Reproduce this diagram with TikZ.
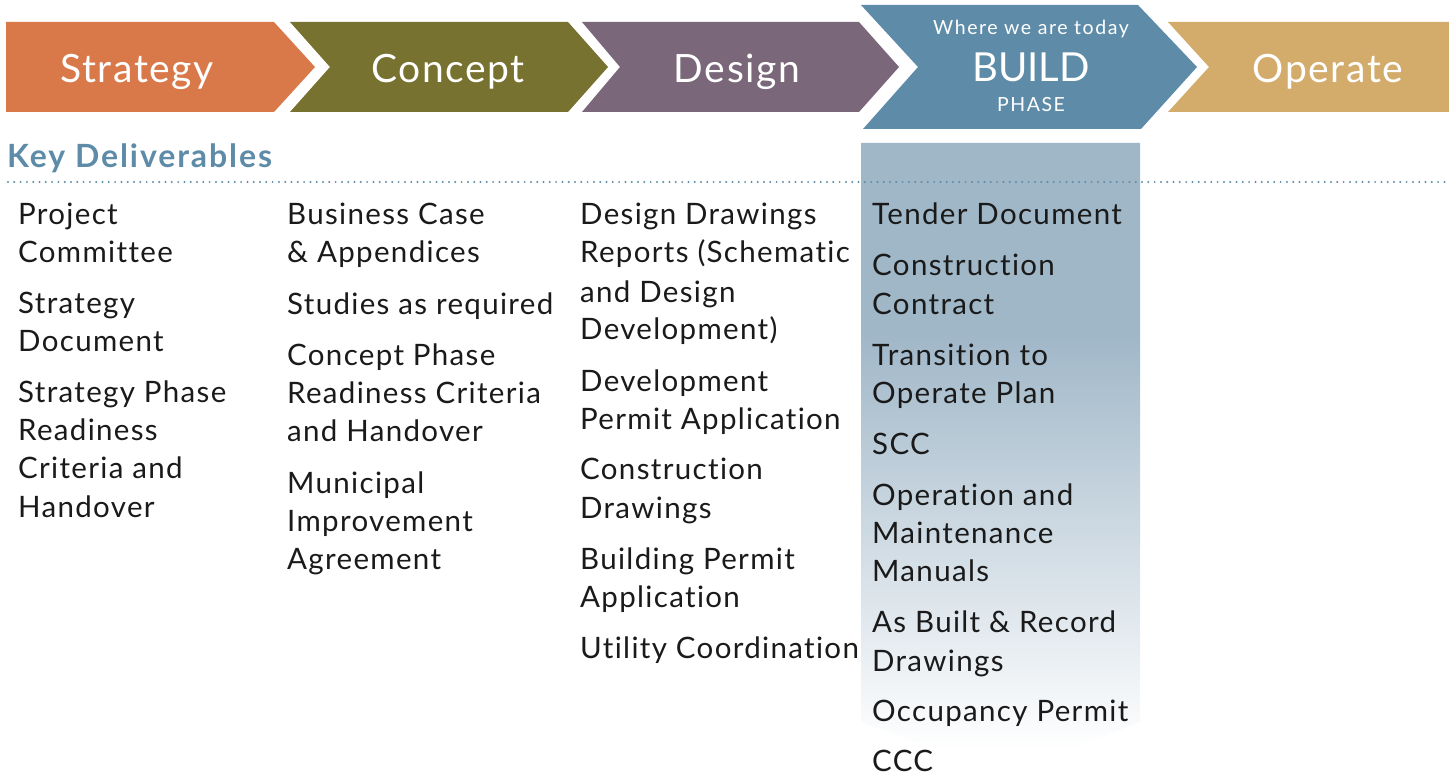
\documentclass[tikz,border=0pt]{standalone}
\usepackage{fontspec}
\setmainfont{Lato}[Ligatures=NoCommon]
\newfontfamily\bodyfont{Lato}[LetterSpace=4.5,Ligatures=NoCommon]
\newfontfamily\headfont{Lato}[LetterSpace=4,Ligatures=NoCommon]
\newfontfamily\smallfont{Lato}[LetterSpace=8,Ligatures=NoCommon]
\newfontfamily\kdfont{Lato Bold}[LetterSpace=6,Ligatures=NoCommon]
\definecolor{cstrat}{HTML}{D9794A}
\definecolor{cconc}{HTML}{77722F}
\definecolor{cdes}{HTML}{7A6779}
\definecolor{cbuild}{HTML}{5E8CA8}
\definecolor{coper}{HTML}{D3AC6C}
\definecolor{cbox}{HTML}{A0B7C8}
\definecolor{ctext}{HTML}{1A1A1A}
\pgfdeclareverticalshading{buildfade}{100bp}{color(0bp)=(white); color(27bp)=(white); color(60bp)=(cbox); color(100bp)=(cbox)}
\begin{document}
\begin{tikzpicture}[x=1pt,y=-1pt,
  phase/.style={text=white,font=\headfont\fontsize{39}{39}\selectfont,anchor=base},
  item/.style={text=ctext,font=\bodyfont\fontsize{29.5}{29.5}\selectfont,anchor=base west,inner sep=0pt}]
\useasboundingbox (0,0) rectangle (1449,778);
% build highlight box
\path[shading=buildfade] (861,143) -- (1140,143) -- (1140,722) -- (1001,775) -- (861,722) -- cycle;
% chevrons
\fill[cstrat] (6,22) -- (274,22) -- (315,67) -- (274,112) -- (6,112) -- cycle;
\fill[cconc] (290,22) -- (568,22) -- (608,67) -- (568,112) -- (290,112) -- (330,67) -- cycle;
\fill[cdes] (582,22) -- (859,22) -- (899,67) -- (859,112) -- (582,112) -- (620,67) -- cycle;
\fill[cbuild] (861,5) -- (1138,5) -- (1197,67) -- (1141,129) -- (863,129) -- (918,67) -- cycle;
\fill[coper] (1168,22) -- (1449,22) -- (1449,112) -- (1168,112) -- (1209,67) -- cycle;
\node[phase] (strategy) at (137,83) {Strategy};
\node[phase] (concept) at (448,83) {Concept};
\node[phase] (design) at (737,83) {Design};
\node[phase] (operate) at (1328,83) {Operate};
\node[phase,font=\rmfamily\fontsize{40}{40}\selectfont] (build) at (1031,82) {BUILD};
\node[phase,font=\smallfont\fontsize{19.5}{19.5}\selectfont] (today) at (1031,35) {Where we are today};
\node[phase,font=\smallfont\fontsize{19.5}{19.5}\selectfont] (phaselbl) at (1031,112) {PHASE};
% key deliverables
\node[anchor=base west,inner sep=0pt,text=cbuild,font=\kdfont\fontsize{32}{32}\selectfont] (kd) at (7,168) {Key Deliverables};
\draw[cbuild,line width=2.2pt,line cap=round,dash pattern=on 0pt off 6.3pt] (8,182) -- (1447,182);
% column 1
\node[item] (a1) at (18,225) {Project};
\node[item] (a2) at (18,263) {Committee};
\node[item] (a3) at (18,313) {Strategy};
\node[item] (a4) at (18,351) {Document};
\node[item] (a5) at (18,402) {Strategy Phase};
\node[item] (a6) at (18,440) {Readiness};
\node[item] (a7) at (18,478) {Criteria and};
\node[item] (a8) at (18,517) {Handover};
% column 2
\node[item] (b1) at (287,225) {Business Case};
\node[item] (b2) at (287,263) {\& Appendices};
\node[item] (b3) at (287,314) {Studies as required};
\node[item] (b4) at (287,365) {Concept Phase};
\node[item] (b5) at (287,403) {Readiness Criteria};
\node[item] (b6) at (287,441) {and Handover};
\node[item] (b7) at (287,493) {Municipal};
\node[item] (b8) at (287,531) {Improvement};
\node[item] (b9) at (287,569) {Agreement};
% column 3
\node[item] (c1) at (580,225) {Design Drawings};
\node[item] (c2) at (580,263) {Reports (Schematic};
\node[item] (c3) at (580,302) {and Design};
\node[item] (c4) at (580,339) {Development)};
\node[item] (c5) at (580,391) {Development};
\node[item] (c6) at (580,429) {Permit Application};
\node[item] (c7) at (580,479) {Construction};
\node[item] (c8) at (580,518) {Drawings};
\node[item] (c9) at (580,569) {Building Permit};
\node[item] (c10) at (580,607) {Application};
\node[item] (c11) at (580,658) {Utility Coordination};
% column 4
\node[item] (d1) at (872,225) {Tender Document};
\node[item] (d2) at (872,276) {Construction};
\node[item] (d3) at (872,314) {Contract};
\node[item] (d4) at (872,365) {Transition to};
\node[item] (d5) at (872,403) {Operate Plan};
\node[item] (d6) at (872,454) {SCC};
\node[item] (d7) at (872,505) {Operation and};
\node[item] (d8) at (872,543) {Maintenance};
\node[item] (d9) at (872,581) {Manuals};
\node[item] (d10) at (872,632) {As Built \& Record};
\node[item] (d11) at (872,671) {Drawings};
\node[item] (d12) at (872,721) {Occupancy Permit};
\node[item] (d13) at (872,771) {CCC};
\end{tikzpicture}
\end{document}
